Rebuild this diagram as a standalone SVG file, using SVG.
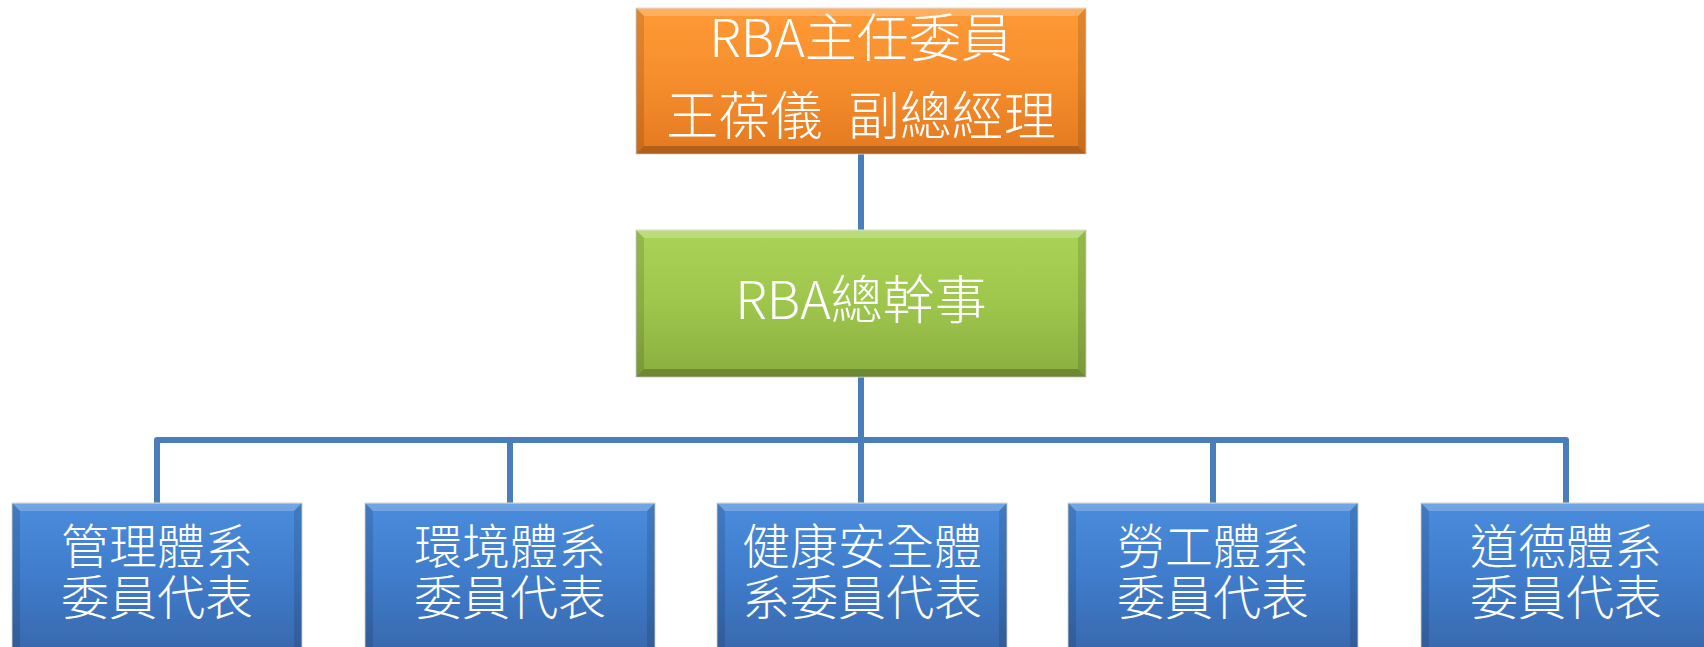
<svg xmlns="http://www.w3.org/2000/svg" width="1704" height="647" viewBox="0 0 1704 647">
<defs>
<linearGradient id="gOrange" x1="0" y1="0" x2="0" y2="1">
<stop offset="0" stop-color="#FE9A36"/>
<stop offset="0.5" stop-color="#F68D2C"/>
<stop offset="1" stop-color="#E47A20"/>
</linearGradient>
<linearGradient id="gGreen" x1="0" y1="0" x2="0" y2="1">
<stop offset="0" stop-color="#A9D356"/>
<stop offset="0.5" stop-color="#9EC64C"/>
<stop offset="1" stop-color="#8AAE40"/>
</linearGradient>
<linearGradient id="gBlue" x1="0" y1="0" x2="0" y2="1">
<stop offset="0" stop-color="#4A8CDC"/>
<stop offset="0.5" stop-color="#3F7CCB"/>
<stop offset="1" stop-color="#3868AC"/>
</linearGradient>
</defs>
<style>
.box{stroke:#D8D8D8;stroke-width:1}
.hi{fill:#FFFFFF;opacity:0.22}
.sh{fill:#000000;opacity:0.12}
.shd{fill:#000000;opacity:0.22}
.t{fill:#FFFFFF;font-family:"Noto Sans CJK TC","Noto Sans CJK SC",sans-serif;font-weight:300;text-anchor:middle}
.t52{font-size:52px}
.t48{font-size:48px}
.conn{fill:none;stroke:#4A7EBB;stroke-width:6;stroke-linejoin:round}
</style>
<g id="connectors">
<path class="conn" d="M861 154 V230"/>
<path class="conn" d="M861 377 V503"/>
<path class="conn" d="M157 503 V440 H1566 V503"/>
<path class="conn" d="M510 440 V503"/>
<path class="conn" d="M1213 440 V503"/>
</g>
<g id="chair">
<rect class="box" x="636" y="8" width="450" height="146" fill="url(#gOrange)"/>
<polygon class="hi" points="636,8 1086,8 1078,16 644,16"/>
<polygon class="sh" points="636,8 644,16 644,146 636,154"/>
<polygon class="sh" points="1086,8 1078,16 1078,146 1086,154"/>
<polygon class="shd" points="636,154 644,146 1078,146 1086,154"/>
<text class="t t52"><tspan x="861" y="57">RBA主任委員</tspan><tspan x="861" y="135" word-spacing="14">王葆儀 副總經理</tspan></text>
</g>
<g id="secretary">
<rect class="box" x="636" y="230" width="450" height="147" fill="url(#gGreen)"/>
<polygon class="hi" points="636,230 1086,230 1078,238 644,238"/>
<polygon class="sh" points="636,230 644,238 644,369 636,377"/>
<polygon class="sh" points="1086,230 1078,238 1078,369 1086,377"/>
<polygon class="shd" points="636,377 644,369 1078,369 1086,377"/>
<text class="t t52" x="861" y="319">RBA總幹事</text>
</g>
<g id="mgmt">
<rect class="box" x="12" y="503" width="290" height="150" fill="url(#gBlue)"/>
<polygon class="hi" points="12,503 302,503 294,511 20,511"/>
<polygon class="sh" points="12,503 20,511 20,653 12,653"/>
<polygon class="sh" points="302,503 294,511 294,653 302,653"/>
<text class="t t48"><tspan x="157" y="564">管理體系</tspan><tspan x="157" y="615">委員代表</tspan></text>
</g>
<g id="env">
<rect class="box" x="365" y="503" width="290" height="150" fill="url(#gBlue)"/>
<polygon class="hi" points="365,503 655,503 647,511 373,511"/>
<polygon class="sh" points="365,503 373,511 373,653 365,653"/>
<polygon class="sh" points="655,503 647,511 647,653 655,653"/>
<text class="t t48"><tspan x="510" y="564">環境體系</tspan><tspan x="510" y="615">委員代表</tspan></text>
</g>
<g id="health">
<rect class="box" x="717" y="503" width="290" height="150" fill="url(#gBlue)"/>
<polygon class="hi" points="717,503 1007,503 999,511 725,511"/>
<polygon class="sh" points="717,503 725,511 725,653 717,653"/>
<polygon class="sh" points="1007,503 999,511 999,653 1007,653"/>
<text class="t t48"><tspan x="862" y="564">健康安全體</tspan><tspan x="862" y="615">系委員代表</tspan></text>
</g>
<g id="labor">
<rect class="box" x="1068" y="503" width="290" height="150" fill="url(#gBlue)"/>
<polygon class="hi" points="1068,503 1358,503 1350,511 1076,511"/>
<polygon class="sh" points="1068,503 1076,511 1076,653 1068,653"/>
<polygon class="sh" points="1358,503 1350,511 1350,653 1358,653"/>
<text class="t t48"><tspan x="1213" y="564">勞工體系</tspan><tspan x="1213" y="615">委員代表</tspan></text>
</g>
<g id="ethics">
<rect class="box" x="1421" y="503" width="290" height="150" fill="url(#gBlue)"/>
<polygon class="hi" points="1421,503 1711,503 1703,511 1429,511"/>
<polygon class="sh" points="1421,503 1429,511 1429,653 1421,653"/>
<text class="t t48"><tspan x="1566" y="564">道德體系</tspan><tspan x="1566" y="615">委員代表</tspan></text>
</g>
</svg>
